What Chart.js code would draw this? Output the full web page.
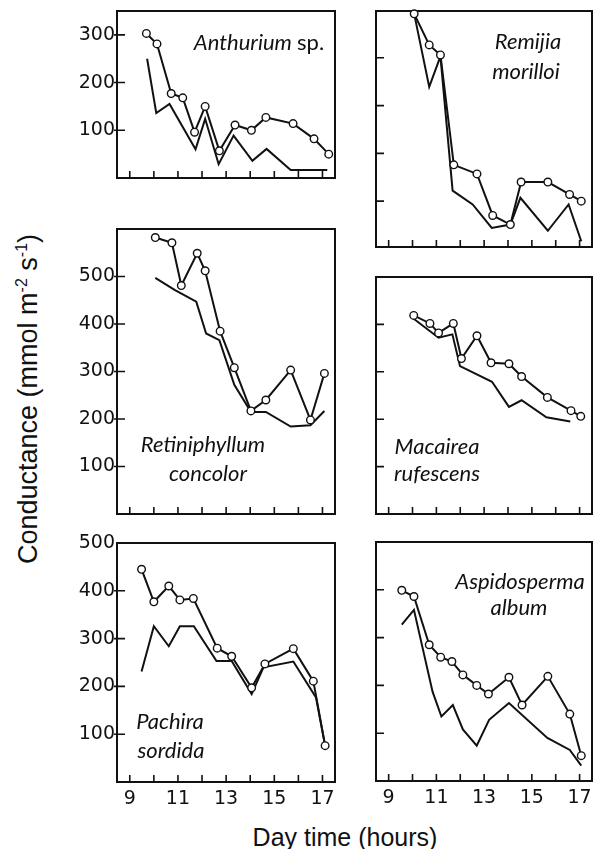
<!DOCTYPE html>
<html>
<head>
<meta charset="utf-8">
<script src="https://cdn.jsdelivr.net/npm/chart.js@4"></script>
<style>
  body { margin: 0; background: #fff; width: 593px; height: 849px; position: relative; overflow: hidden; }
  canvas { position: absolute; }
  .species { position: absolute; font-family: Lato, sans-serif; font-style: italic; font-size: 22px; color: #111; white-space: nowrap; transform: translate(-50%, -50%); }
  .species span { font-style: normal; }
  .ytitle { position: absolute; left: 28px; top: 399px; font-family: "Liberation Sans", Arial, sans-serif; font-size: 27px; color: #111; white-space: nowrap; transform: translate(-50%, -50%) rotate(-90deg); }
  .ytitle sup { font-size: 16px; }
  .xtitle { position: absolute; left: 345px; top: 837px; font-family: "Liberation Sans", Arial, sans-serif; font-size: 25px; color: #111; white-space: nowrap; transform: translate(-50%, -50%); }
</style>
</head>
<body>
<canvas id="anthurium"></canvas>
<canvas id="remijia"></canvas>
<canvas id="retiniphyllum"></canvas>
<canvas id="macairea"></canvas>
<canvas id="pachira"></canvas>
<canvas id="aspidosperma"></canvas>

<div class="species" style="left:259px; top:41px"><i>Anthurium</i> <span>sp.</span></div>
<div class="species" style="left:528px; top:40px">Remijia</div>
<div class="species" style="left:526px; top:70px">morilloi</div>
<div class="species" style="left:203px; top:443px">Retiniphyllum</div>
<div class="species" style="left:208px; top:472px">concolor</div>
<div class="species" style="left:437px; top:445px">Macairea</div>
<div class="species" style="left:437px; top:472px">rufescens</div>
<div class="species" style="left:170px; top:720px">Pachira</div>
<div class="species" style="left:171px; top:749px">sordida</div>
<div class="species" style="left:520px; top:580px">Aspidosperma</div>
<div class="species" style="left:519px; top:606px">album</div>

<div class="ytitle">Conductance (mmol m<sup>-2</sup> s<sup>-1</sup>)</div>
<div class="xtitle">Day time (hours)</div>

<script>
// Stomatal conductance over the day, two curves per species (open circles and plain line)

const anthuriumOpenHours = [9.69, 10.13, 10.72, 11.2, 11.69, 12.13, 12.72, 13.37, 14.05, 14.65, 15.78, 16.65, 17.26];
const anthuriumOpenValues = [303, 281, 177, 168, 96, 150, 57, 111, 100, 127, 114, 82, 50];
const anthuriumLineHours = [9.72, 10.1, 10.65, 11.73, 12.13, 12.69, 13.31, 14.09, 14.68, 15.68, 17.2];
const anthuriumLineValues = [250, 136, 155, 60, 124, 29, 89, 36, 61, 17, 17];

const remijiaOpenHours = [10.07, 10.7, 11.17, 11.73, 12.7, 13.36, 14.1, 14.55, 15.67, 16.58, 17.07];
const remijiaOpenValues = [492, 427, 406, 176, 157, 70, 51, 140, 140, 114, 100];
const remijiaLineHours = [10.07, 10.7, 11.17, 11.68, 12.52, 13.32, 14.1, 14.52, 15.67, 16.54, 17.07];
const remijiaLineValues = [492, 339, 403, 122, 93, 44, 51, 107, 38, 93, 16];

const retiniphyllumOpenHours = [10.06, 10.75, 11.14, 11.8, 12.13, 12.75, 13.34, 14.03, 14.65, 15.68, 16.5, 17.08];
const retiniphyllumOpenValues = [582, 571, 481, 549, 512, 385, 308, 217, 240, 303, 198, 296];
const retiniphyllumLineHours = [10.06, 10.86, 11.76, 12.17, 12.72, 13.34, 14.03, 14.65, 15.68, 16.5, 17.08];
const retiniphyllumLineValues = [497, 472, 447, 380, 366, 272, 215, 215, 184, 187, 217];

const macaireaOpenHours = [10.05, 10.73, 11.09, 11.71, 12.05, 12.7, 13.29, 14.04, 14.57, 15.65, 16.64, 17.05];
const macaireaOpenValues = [419, 402, 382, 402, 328, 376, 319, 317, 290, 246, 218, 206];
const macaireaLineHours = [10.05, 11.09, 11.67, 11.99, 13.33, 14.04, 14.57, 15.61, 16.61];
const macaireaLineValues = [412, 372, 379, 312, 279, 226, 240, 204, 195];

const pachiraOpenHours = [9.49, 10.0, 10.62, 11.08, 11.64, 12.63, 13.23, 14.06, 14.61, 15.79, 16.62, 17.11];
const pachiraOpenValues = [445, 377, 410, 381, 384, 280, 263, 197, 247, 279, 211, 76];
const pachiraLineHours = [9.49, 10.0, 10.62, 11.08, 11.66, 12.6, 13.23, 14.06, 14.55, 15.79, 16.73, 17.11];
const pachiraLineValues = [231, 326, 284, 326, 326, 253, 253, 184, 240, 252, 177, 76];

const aspidospermaOpenHours = [9.55, 10.06, 10.7, 11.18, 11.65, 12.11, 12.69, 13.18, 14.04, 14.59, 15.67, 16.59, 17.07];
const aspidospermaOpenValues = [399, 386, 285, 259, 250, 222, 200, 182, 217, 159, 219, 140, 53];
const aspidospermaLineHours = [9.55, 10.06, 10.84, 11.21, 11.69, 12.11, 12.69, 13.21, 14.04, 15.65, 16.59, 17.07];
const aspidospermaLineValues = [327, 358, 187, 135, 159, 108, 74, 128, 163, 90, 65, 32];

// Axis ticks: every hour marked, odd hours labelled; conductance every 100
const hourTickValues = [9, 10, 11, 12, 13, 14, 15, 16, 17];
const hourTickLabels = [9, 11, 13, 15, 17];
const conductanceTickValues = [100, 200, 300, 400, 500];

const ink = '#111';
const tickFont = { family: 'DejaVu Sans', size: 19 };

const toPoints = (xs, ys) => xs.map((x, i) => ({ x, y: ys[i] }));

// Box around the plot area plus inward tick marks
const framePlugin = {
    id: 'frame',
    beforeDatasetsDraw(chart, args, opts) {
        const { ctx, chartArea: a, scales } = chart;
        ctx.save();
        ctx.strokeStyle = ink;
        ctx.lineWidth = 2;
        ctx.strokeRect(a.left, a.top, a.right - a.left, a.bottom - a.top);
        ctx.lineWidth = 1.6;
        ctx.beginPath();
        scales.x.ticks.forEach(t => {
            if (t.value <= scales.x.min || t.value >= scales.x.max) return;
            const px = scales.x.getPixelForValue(t.value);
            ctx.moveTo(px, a.bottom);
            ctx.lineTo(px, a.bottom - 7);
        });
        scales.y.ticks.forEach(t => {
            if (t.value <= scales.y.min || t.value >= scales.y.max) return;
            const py = scales.y.getPixelForValue(t.value);
            ctx.moveTo(a.left - (opts.outside || 0), py);
            ctx.lineTo(a.left + 8, py);
        });
        ctx.stroke();
        ctx.restore();
    }
};

function panel(id, box, yMin, yMax, open, line, leftCol, bottomRow) {
    const canvas = document.getElementById(id);
    const padLeft = leftCol ? 70 : 8;
    const padTop = 16;
    const padRight = 8;
    const padBottom = bottomRow ? 34 : 16;
    const left = box.l - padLeft, top = box.t - padTop;
    canvas.width = box.r + padRight - left;
    canvas.height = box.b + padBottom - top;
    canvas.style.left = left + 'px';
    canvas.style.top = top + 'px';

    new Chart(canvas, {
        type: 'line',
        data: {
            datasets: [
                {
                    data: open,
                    borderColor: ink,
                    borderWidth: 2,
                    pointRadius: 3.8,
                    pointBorderWidth: 1.4,
                    pointBackgroundColor: '#fff',
                    pointBorderColor: ink,
                    tension: 0,
                    clip: false
                },
                {
                    data: line,
                    borderColor: ink,
                    borderWidth: 2,
                    pointRadius: 0,
                    tension: 0,
                    clip: false
                }
            ]
        },
        options: {
            responsive: false,
            animation: false,
            layout: { padding: { top: padTop, right: padRight, left: 0, bottom: 0 } },
            plugins: {
                legend: { display: false },
                tooltip: { enabled: false },
                frame: { outside: leftCol ? 3 : 0 }
            },
            scales: {
                x: {
                    type: 'linear',
                    min: 8.47,
                    max: 17.52,
                    afterFit: s => { s.height = padBottom; },
                    afterBuildTicks: s => { s.ticks = hourTickValues.map(value => ({ value })); },
                    grid: { display: false, drawTicks: false },
                    border: { display: false },
                    ticks: {
                        display: bottomRow,
                        autoSkip: false,
                        maxRotation: 0,
                        padding: 6,
                        color: ink,
                        font: tickFont,
                        callback: v => hourTickLabels.includes(v) ? String(v) : ''
                    }
                },
                y: {
                    min: yMin,
                    max: yMax,
                    afterFit: s => { s.width = padLeft; },
                    afterBuildTicks: s => {
                        s.ticks = conductanceTickValues.filter(v => v <= yMax).map(value => ({ value }));
                    },
                    grid: { display: false, drawTicks: false },
                    border: { display: false },
                    ticks: {
                        display: leftCol,
                        padding: 2,
                        color: ink,
                        font: tickFont,
                        callback: v => String(v)
                    }
                }
            }
        },
        plugins: [framePlugin]
    });
}

panel('anthurium', { l: 117, t: 11, r: 335, b: 178 }, 0, 350,
    toPoints(anthuriumOpenHours, anthuriumOpenValues), toPoints(anthuriumLineHours, anthuriumLineValues), true, false);
panel('remijia', { l: 376, t: 11, r: 592, b: 247 }, 4, 498,
    toPoints(remijiaOpenHours, remijiaOpenValues), toPoints(remijiaLineHours, remijiaLineValues), false, false);
panel('retiniphyllum', { l: 117, t: 229, r: 335, b: 514 }, 0, 600,
    toPoints(retiniphyllumOpenHours, retiniphyllumOpenValues), toPoints(retiniphyllumLineHours, retiniphyllumLineValues), true, false);
panel('macairea', { l: 376, t: 277, r: 592, b: 514 }, 0, 500,
    toPoints(macaireaOpenHours, macaireaOpenValues), toPoints(macaireaLineHours, macaireaLineValues), false, false);
panel('pachira', { l: 117, t: 543, r: 335, b: 782 }, 0, 500,
    toPoints(pachiraOpenHours, pachiraOpenValues), toPoints(pachiraLineHours, pachiraLineValues), true, true);
panel('aspidosperma', { l: 376, t: 542, r: 592, b: 781 }, 0, 500,
    toPoints(aspidospermaOpenHours, aspidospermaOpenValues), toPoints(aspidospermaLineHours, aspidospermaLineValues), false, true);
</script>
</body>
</html>
